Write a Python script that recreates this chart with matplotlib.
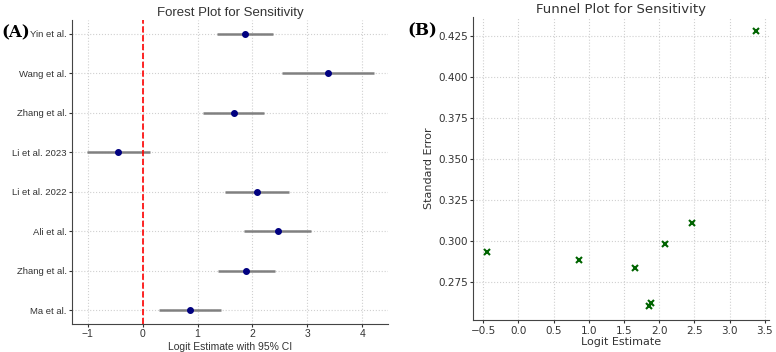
import numpy as np
import matplotlib
matplotlib.use('Agg')
import matplotlib.pyplot as plt

# studies, logit estimates and standard errors
studies = ["Yin et al.", "Wang et al.", "Zhang et al.", "Li et al. 2023",
           "Li et al. 2022", "Ali et al.", "Zhang et al.", "Ma et al."]
logit = np.array([1.86, 3.37, 1.66, -0.45, 2.08, 2.46, 1.89, 0.86])
se = np.array([0.260, 0.428, 0.283, 0.293, 0.298, 0.311, 0.262, 0.288])

lower = logit - 1.96 * se
upper = logit + 1.96 * se

fig = plt.figure(figsize=(7.76, 3.52), dpi=100)

grid_kw = dict(color='#d0d0d0', linestyle=':', linewidth=0.8)
narrow = ['Liberation Sans', 'DejaVu Sans']

#   (A) forest plot
ax1 = fig.add_axes([0.093, 0.080, 0.407, 0.864])
ypos = np.arange(len(studies))
ax1.hlines(ypos, lower, upper, color='gray', linewidth=1.8, zorder=2)
ax1.plot(logit, ypos, 'o', color='navy', markersize=4, zorder=3)
ax1.axvline(0, color='red', linestyle='--', linewidth=1.2)
ax1.set_yticks(ypos)
ax1.set_yticklabels(studies, fontsize=6.8, family=narrow)
ax1.invert_yaxis()
ax1.set_xticks([-1, 0, 1, 2, 3, 4])
ax1.set_xticklabels(['\u22121', '0', '1', '2', '3', '4'], fontsize=7.5, family=narrow)
ax1.set_xlabel("Logit Estimate with 95% CI", fontsize=7.5, color='#333333',
               family=narrow, labelpad=2)
ax1.set_title("Forest Plot for Sensitivity", fontsize=9.5, color='#333333',
              family=narrow, pad=3)
ax1.grid(True, **grid_kw)
ax1.set_axisbelow(True)

#   (B) funnel plot
ax2 = fig.add_axes([0.610, 0.091, 0.381, 0.861])
ax2.plot(logit, se, 'x', color='darkgreen', markersize=5, markeredgewidth=1.5)
ax2.set_xlabel("Logit Estimate", fontsize=8, color='#333333', labelpad=1)
ax2.set_ylabel("Standard Error", fontsize=8, color='#333333', labelpad=3)
ax2.set_title("Funnel Plot for Sensitivity", fontsize=9.5, color='#333333', pad=3)
ax2.set_xticks(np.arange(-0.5, 3.6, 0.5))
ax2.set_yticks([0.275, 0.300, 0.325, 0.350, 0.375, 0.400, 0.425])
ax2.grid(True, **grid_kw)
ax2.set_axisbelow(True)

for ax in (ax1, ax2):
    ax.spines['top'].set_visible(False)
    ax.spines['right'].set_visible(False)
    ax.spines['left'].set_color('#444444')
    ax.spines['bottom'].set_color('#444444')
    ax.tick_params(direction='out', length=2, pad=2, colors='#333333')
ax2.tick_params(labelsize=7.5)

fig.text(0.002, 0.895, "(A)", fontsize=12, fontweight='bold', family='DejaVu Serif')
fig.text(0.525, 0.90, "(B)", fontsize=12, fontweight='bold', family='DejaVu Serif')

plt.savefig('out.png', dpi=100)
